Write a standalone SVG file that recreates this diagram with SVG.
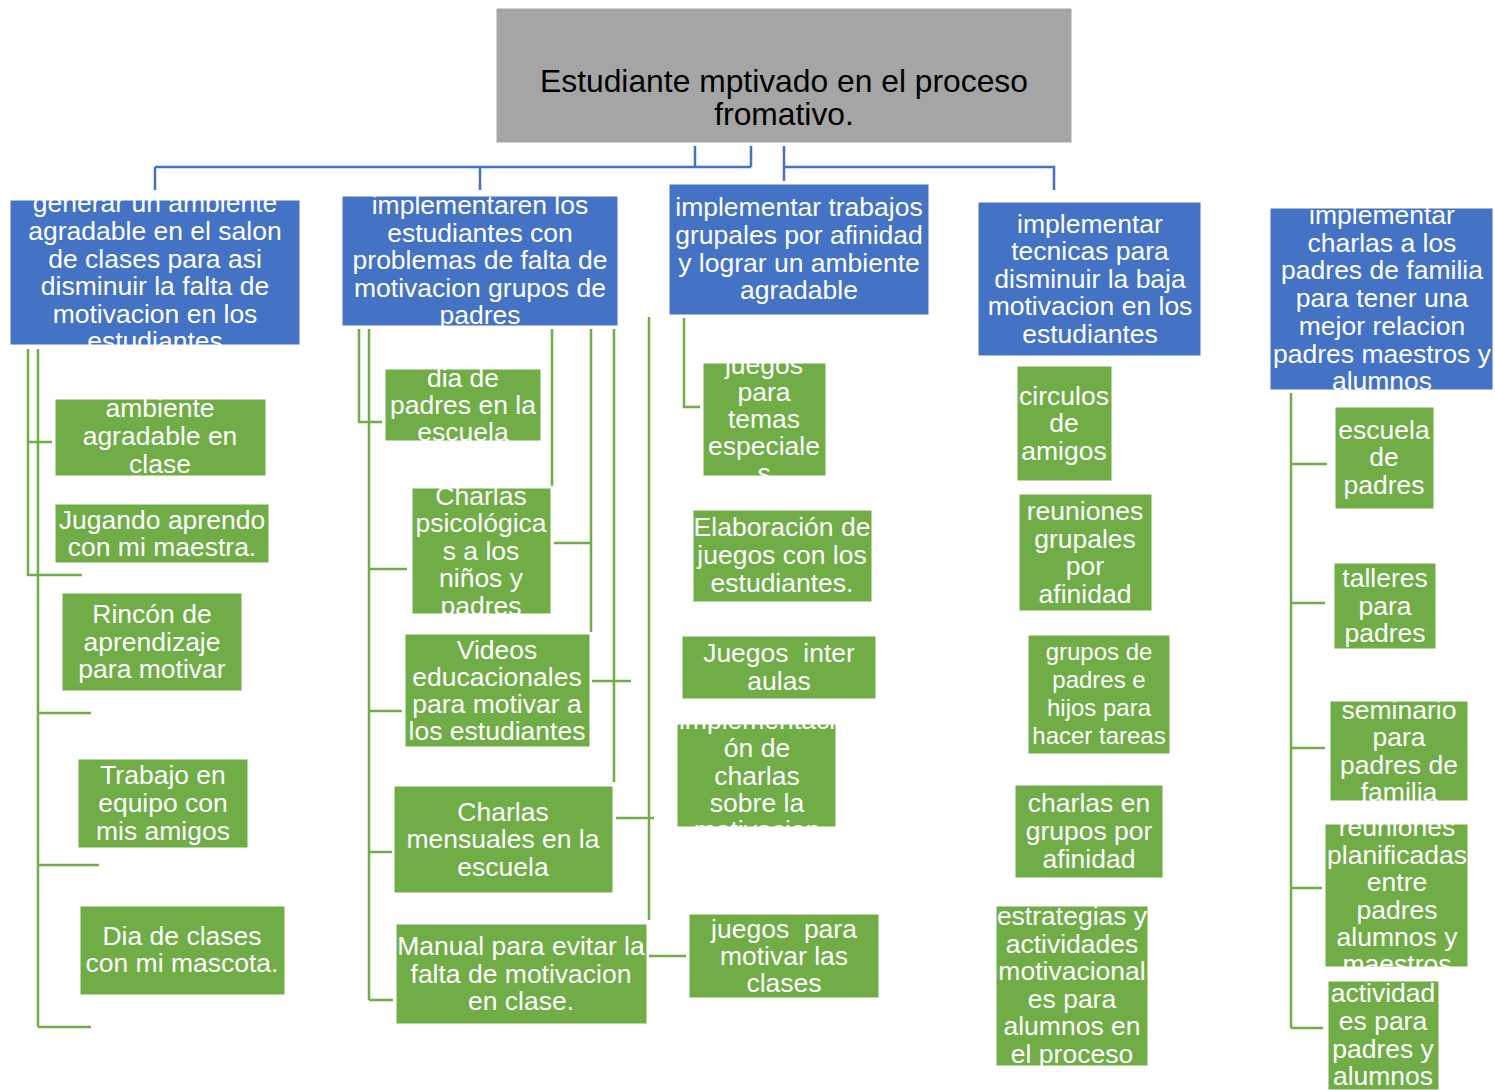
<svg xmlns="http://www.w3.org/2000/svg" width="1495" height="1090" viewBox="0 0 1495 1090">
<style>
.bg{fill:#ffffff}
.root{fill:#A5A5A5;stroke:#ffffff;stroke-width:1}
.b{fill:#4472C4;stroke:#ffffff;stroke-width:1}
.g{fill:#70AD47;stroke:#ffffff;stroke-width:1}
.t{font-family:"Liberation Sans",Arial,sans-serif;font-size:26.5px;fill:#ffffff;text-anchor:middle}
.rt{font-family:"Liberation Sans",Arial,sans-serif;font-size:31.8px;fill:#000000;text-anchor:middle}
.cb{stroke:#4472C4;stroke-width:2.5;fill:none}
.cg{stroke:#70AD47;stroke-width:2.5;fill:none}
</style>
<defs>
<clipPath id="c-b1" clipPathUnits="userSpaceOnUse"><rect x="10" y="200" width="290" height="145"/></clipPath>
<clipPath id="c-b2" clipPathUnits="userSpaceOnUse"><rect x="342" y="196" width="276" height="130"/></clipPath>
<clipPath id="c-b5" clipPathUnits="userSpaceOnUse"><rect x="1270" y="208" width="223" height="182"/></clipPath>
<clipPath id="c-g21" clipPathUnits="userSpaceOnUse"><rect x="385" y="369" width="156" height="72"/></clipPath>
<clipPath id="c-g22" clipPathUnits="userSpaceOnUse"><rect x="412" y="488" width="139" height="126"/></clipPath>
<clipPath id="c-g31" clipPathUnits="userSpaceOnUse"><rect x="703" y="363" width="123" height="113"/></clipPath>
<clipPath id="c-g34" clipPathUnits="userSpaceOnUse"><rect x="677" y="724" width="159" height="103"/></clipPath>
<clipPath id="c-g45" clipPathUnits="userSpaceOnUse"><rect x="996" y="906" width="152" height="160"/></clipPath>
<clipPath id="c-g53" clipPathUnits="userSpaceOnUse"><rect x="1330" y="701" width="138" height="100"/></clipPath>
<clipPath id="c-g54" clipPathUnits="userSpaceOnUse"><rect x="1325" y="824" width="143" height="143"/></clipPath>
</defs>
<rect class="bg" x="0" y="0" width="1495" height="1090"/>

<g id="connectors">
<path class="cb" d="M695,146 V167 M751,146 V167 M155,167 H751 M155,167 V190 M480,167 V190 M784,146 V181 M784,167 H1054 V190"/>
<path class="cg" d="M28,349 V576 M28,442 H52 M28,575 H82 M38,349 V1027 M38,713 H91 M38,865 H99 M38,1027 H91"/>
<path class="cg" d="M359,329 V422 H382 M369,329 V1000 M369,569 H407 M369,711 H402 M369,852 H392 M369,1000 H393 M552,329 V486 M591,329 V632 M554,543 H591 M614,329 V782 M592,681 H631 M649,317 V920 M616,818 H654 M649,956 H686"/>
<path class="cg" d="M684,318 V407 H700"/>
<path class="cg" d="M1291,393 V1028 M1291,464 H1327 M1291,603 H1325 M1291,748 H1325 M1291,888 H1322 M1291,1028 H1323"/>
</g>

<g id="root">
<rect class="root" x="496" y="8" width="576" height="135"/>
<text class="rt"><tspan x="784" y="92">Estudiante mptivado en el proceso</tspan><tspan x="784" y="125">fromativo.</tspan></text>
</g>

<g id="b1">
<rect class="b" x="10" y="200" width="290" height="145"/>
<text class="t" clip-path="url(#c-b1)"><tspan x="155" y="212">generar un ambiente</tspan><tspan x="155" y="240">agradable en el salon</tspan><tspan x="155" y="268">de clases para asi</tspan><tspan x="155" y="295">disminuir la falta de</tspan><tspan x="155" y="323">motivacion en los</tspan><tspan x="155" y="350">estudiantes</tspan></text>
</g>
<g id="b2">
<rect class="b" x="342" y="196" width="276" height="130"/>
<text class="t" clip-path="url(#c-b2)"><tspan x="480" y="214">implementaren los</tspan><tspan x="480" y="242">estudiantes con</tspan><tspan x="480" y="269">problemas de falta de</tspan><tspan x="480" y="297">motivacion grupos de</tspan><tspan x="480" y="324">padres</tspan></text>
</g>
<g id="b3">
<rect class="b" x="669" y="184" width="260" height="131"/>
<text class="t"><tspan x="799" y="216">implementar trabajos</tspan><tspan x="799" y="244">grupales por afinidad</tspan><tspan x="799" y="272">y lograr un ambiente</tspan><tspan x="799" y="299">agradable</tspan></text>
</g>
<g id="b4">
<rect class="b" x="978" y="202" width="223" height="154"/>
<text class="t"><tspan x="1090" y="233">implementar</tspan><tspan x="1090" y="260">tecnicas para</tspan><tspan x="1090" y="288">disminuir la baja</tspan><tspan x="1090" y="315">motivacion en los</tspan><tspan x="1090" y="343">estudiantes</tspan></text>
</g>
<g id="b5">
<rect class="b" x="1270" y="208" width="223" height="182"/>
<text class="t" clip-path="url(#c-b5)"><tspan x="1382" y="224">implementar</tspan><tspan x="1382" y="252">charlas a los</tspan><tspan x="1382" y="279">padres de familia</tspan><tspan x="1382" y="307">para tener una</tspan><tspan x="1382" y="335">mejor relacion</tspan><tspan x="1382" y="363">padres maestros y</tspan><tspan x="1382" y="390">alumnos</tspan></text>
</g>

<g id="g11">
<rect class="g" x="55" y="399" width="211" height="77"/>
<text class="t"><tspan x="160" y="417">ambiente</tspan><tspan x="160" y="445">agradable en</tspan><tspan x="160" y="473">clase</tspan></text>
</g>
<g id="g12">
<rect class="g" x="55" y="504" width="214" height="59"/>
<text class="t"><tspan x="162" y="529">Jugando aprendo</tspan><tspan x="162" y="556">con mi maestra.</tspan></text>
</g>
<g id="g13">
<rect class="g" x="62" y="593" width="180" height="98"/>
<text class="t"><tspan x="152" y="623">Rincón de</tspan><tspan x="152" y="651">aprendizaje</tspan><tspan x="152" y="678">para motivar</tspan></text>
</g>
<g id="g14">
<rect class="g" x="78" y="759" width="170" height="89"/>
<text class="t"><tspan x="163" y="784">Trabajo en</tspan><tspan x="163" y="812">equipo con</tspan><tspan x="163" y="840">mis amigos</tspan></text>
</g>
<g id="g15">
<rect class="g" x="80" y="906" width="205" height="89"/>
<text class="t"><tspan x="182" y="945">Dia de clases</tspan><tspan x="182" y="972">con mi mascota.</tspan></text>
</g>

<g id="g21">
<rect class="g" x="385" y="369" width="156" height="72"/>
<text class="t" clip-path="url(#c-g21)"><tspan x="463" y="387">dia de</tspan><tspan x="463" y="414">padres en la</tspan><tspan x="463" y="441">escuela</tspan></text>
</g>
<g id="g22">
<rect class="g" x="412" y="488" width="139" height="126"/>
<text class="t" clip-path="url(#c-g22)"><tspan x="481" y="505">Charlas</tspan><tspan x="481" y="532">psicológica</tspan><tspan x="481" y="560">s a los</tspan><tspan x="481" y="587">niños y</tspan><tspan x="481" y="615">padres</tspan></text>
</g>
<g id="g23">
<rect class="g" x="405" y="634" width="185" height="113"/>
<text class="t"><tspan x="497" y="659">Videos</tspan><tspan x="497" y="686">educacionales</tspan><tspan x="497" y="713">para motivar a</tspan><tspan x="497" y="740">los estudiantes</tspan></text>
</g>
<g id="g24">
<rect class="g" x="394" y="786" width="219" height="107"/>
<text class="t"><tspan x="503" y="821">Charlas</tspan><tspan x="503" y="848">mensuales en la</tspan><tspan x="503" y="876">escuela</tspan></text>
</g>
<g id="g25">
<rect class="g" x="396" y="924" width="251" height="100"/>
<text class="t"><tspan x="521" y="955">Manual para evitar la</tspan><tspan x="521" y="983">falta de motivacion</tspan><tspan x="521" y="1010">en clase.</tspan></text>
</g>

<g id="g31">
<rect class="g" x="703" y="363" width="123" height="113"/>
<text class="t" clip-path="url(#c-g31)"><tspan x="764" y="374">juegos</tspan><tspan x="764" y="401">para</tspan><tspan x="764" y="428">temas</tspan><tspan x="764" y="455">especiale</tspan><tspan x="764" y="482">s</tspan></text>
</g>
<g id="g32">
<rect class="g" x="693" y="510" width="179" height="92"/>
<text class="t"><tspan x="782" y="536">Elaboración de</tspan><tspan x="782" y="564">juegos con los</tspan><tspan x="782" y="592">estudiantes.</tspan></text>
</g>
<g id="g33">
<rect class="g" x="682" y="636" width="194" height="63"/>
<text class="t" xml:space="preserve"><tspan x="779" y="662">Juegos  inter</tspan><tspan x="779" y="690">aulas</tspan></text>
</g>
<g id="g34">
<rect class="g" x="677" y="724" width="159" height="103"/>
<text class="t" clip-path="url(#c-g34)"><tspan x="757" y="729">implementaci</tspan><tspan x="757" y="757">ón de</tspan><tspan x="757" y="785">charlas</tspan><tspan x="757" y="812">sobre la</tspan><tspan x="757" y="839">motivacion</tspan></text>
</g>
<g id="g35">
<rect class="g" x="689" y="914" width="190" height="84"/>
<text class="t" xml:space="preserve"><tspan x="784" y="938">juegos  para</tspan><tspan x="784" y="965">motivar las</tspan><tspan x="784" y="992">clases</tspan></text>
</g>

<g id="g41">
<rect class="g" x="1017" y="366" width="95" height="115"/>
<text class="t"><tspan x="1064" y="405">circulos</tspan><tspan x="1064" y="432">de</tspan><tspan x="1064" y="460">amigos</tspan></text>
</g>
<g id="g42">
<rect class="g" x="1019" y="494" width="133" height="117"/>
<text class="t"><tspan x="1085" y="520">reuniones</tspan><tspan x="1085" y="548">grupales</tspan><tspan x="1085" y="575">por</tspan><tspan x="1085" y="603">afinidad</tspan></text>
</g>
<g id="g43">
<rect class="g" x="1028" y="635" width="142" height="119"/>
<text class="t" style="font-size:24px"><tspan x="1099" y="660">grupos de</tspan><tspan x="1099" y="688">padres e</tspan><tspan x="1099" y="716">hijos para</tspan><tspan x="1099" y="744">hacer tareas</tspan></text>
</g>
<g id="g44">
<rect class="g" x="1015" y="785" width="148" height="93"/>
<text class="t"><tspan x="1089" y="812">charlas en</tspan><tspan x="1089" y="840">grupos por</tspan><tspan x="1089" y="868">afinidad</tspan></text>
</g>
<g id="g45">
<rect class="g" x="996" y="906" width="152" height="160"/>
<text class="t" clip-path="url(#c-g45)"><tspan x="1072" y="925">estrategias y</tspan><tspan x="1072" y="953">actividades</tspan><tspan x="1072" y="980">motivacional</tspan><tspan x="1072" y="1008">es para</tspan><tspan x="1072" y="1035">alumnos en</tspan><tspan x="1072" y="1063">el proceso</tspan></text>
</g>

<g id="g51">
<rect class="g" x="1335" y="407" width="99" height="102"/>
<text class="t"><tspan x="1384" y="439">escuela</tspan><tspan x="1384" y="466">de</tspan><tspan x="1384" y="494">padres</tspan></text>
</g>
<g id="g52">
<rect class="g" x="1334" y="563" width="102" height="86"/>
<text class="t"><tspan x="1385" y="587">talleres</tspan><tspan x="1385" y="615">para</tspan><tspan x="1385" y="642">padres</tspan></text>
</g>
<g id="g53">
<rect class="g" x="1330" y="701" width="138" height="100"/>
<text class="t" clip-path="url(#c-g53)"><tspan x="1399" y="719">seminario</tspan><tspan x="1399" y="746">para</tspan><tspan x="1399" y="774">padres de</tspan><tspan x="1399" y="801">familia</tspan></text>
</g>
<g id="g54">
<rect class="g" x="1325" y="824" width="143" height="143"/>
<text class="t" clip-path="url(#c-g54)"><tspan x="1397" y="836">reuniones</tspan><tspan x="1397" y="864">planificadas</tspan><tspan x="1397" y="891">entre</tspan><tspan x="1397" y="919">padres</tspan><tspan x="1397" y="946">alumnos y</tspan><tspan x="1397" y="973">maestros</tspan></text>
</g>
<g id="g55">
<rect class="g" x="1328" y="981" width="111" height="109"/>
<text class="t"><tspan x="1383" y="1002">actividad</tspan><tspan x="1383" y="1030">es para</tspan><tspan x="1383" y="1058">padres y</tspan><tspan x="1383" y="1085">alumnos</tspan></text>
</g>
</svg>
